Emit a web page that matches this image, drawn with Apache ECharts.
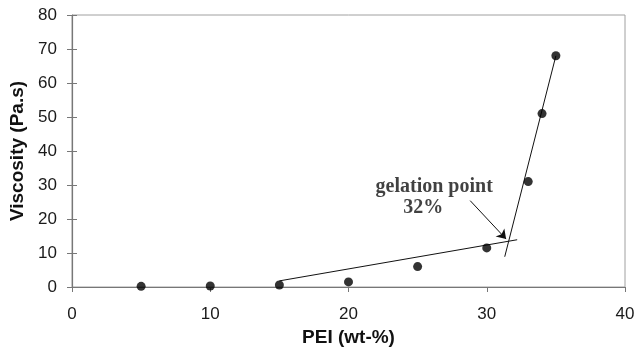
<!DOCTYPE html>
<html>
<head>
<meta charset="utf-8">
<script src="https://cdn.jsdelivr.net/npm/echarts@6/dist/echarts.min.js"></script>
<style>
html,body{margin:0;padding:0;background:#fff;}
#chart{width:638px;height:354px;}
</style>
</head>
<body>
<div id="chart"></div>
<script>
// Data
const peiPercent = [5, 10, 15, 20, 25, 30, 33, 34, 35];
const viscosity = [0.2, 0.3, 0.6, 1.5, 6.0, 11.5, 31, 51, 68];
const fitLow = [[15, 1.8], [32.2, 13.9]];
const fitHigh = [[31.3, 8.9], [35, 68]];
const arrowFrom = [28.8, 25.4];
const arrowTo = [31.4, 14.1];
const noteLine1 = { text: 'gelation point', at: [26.2, 29.4] };
const noteLine2 = { text: '32%', at: [25.4, 23.2] };
const xTicks = { min: 0, max: 40, interval: 10 };
const yTicks = { min: 0, max: 80, interval: 10 };

const chart = echarts.init(document.getElementById('chart'), null, { renderer: 'canvas' });
const labelFont = { fontFamily: 'Liberation Sans, Arial, sans-serif', fontSize: 17, color: '#1a1a1a' };
const titleFont = { fontFamily: 'Liberation Sans, Arial, sans-serif', fontSize: 19, fontWeight: 'bold', color: '#111' };
const noteFont = { fontFamily: 'Liberation Serif, Times New Roman, serif', fontSize: 20, fontWeight: 'bold', color: '#111' };

chart.setOption({
  animation: false,
  backgroundColor: '#fff',
  grid: { left: 72, right: 13, top: 15, bottom: 67, show: true, borderColor: '#a0a0a0', borderWidth: 1 },
  xAxis: {
    type: 'value', min: xTicks.min, max: xTicks.max, interval: xTicks.interval,
    name: 'PEI (wt-%)', nameLocation: 'middle', nameGap: 40, nameTextStyle: titleFont,
    axisLine: { show: true, onZero: false, lineStyle: { color: '#777', width: 1.2 } },
    axisTick: { show: true, length: 5, lineStyle: { color: '#777' } },
    axisLabel: Object.assign({ margin: 19 }, labelFont),
    splitLine: { show: false }
  },
  yAxis: [{
    type: 'value', min: yTicks.min, max: yTicks.max, interval: yTicks.interval,
    name: 'Viscosity (Pa.s)', nameLocation: 'middle', nameGap: 43, nameTextStyle: titleFont,
    axisLine: { show: true, onZero: false, lineStyle: { color: '#777', width: 1.2 } },
    axisTick: { show: true, length: 5, lineStyle: { color: '#777' } },
    axisLabel: Object.assign({ margin: 15 }, labelFont),
    splitLine: { show: false }
  }, {
    type: 'value', min: yTicks.min, max: yTicks.max, interval: yTicks.interval, position: 'left',
    axisLine: { show: false },
    axisTick: { show: true, inside: true, length: 5, lineStyle: { color: '#777' } },
    axisLabel: { show: false },
    splitLine: { show: false }
  }],
  series: [
    {
      type: 'line', data: fitLow, symbol: 'none', silent: true,
      lineStyle: { color: '#111', width: 1 }
    },
    {
      type: 'line', data: fitHigh, symbol: 'none', silent: true,
      lineStyle: { color: '#111', width: 1 },
      markLine: {
        silent: true, symbol: ['none', 'arrow'], symbolSize: 9,
        lineStyle: { color: '#111', width: 1, type: 'solid' }, label: { show: false },
        data: [[{ coord: arrowFrom }, { coord: arrowTo }]]
      }
    },
    {
      type: 'scatter', data: peiPercent.map((x, i) => [x, viscosity[i]]),
      symbol: 'circle', symbolSize: 9, itemStyle: { color: '#000' }, z: 5
    },
    {
      type: 'scatter', symbolSize: 0, silent: true,
      data: [
        { value: noteLine1.at, label: { formatter: noteLine1.text } },
        { value: noteLine2.at, label: { formatter: noteLine2.text } }
      ],
      label: Object.assign({ show: true, position: 'inside', align: 'center', verticalAlign: 'middle' }, noteFont)
    }
  ]
});
</script>
</body>
</html>
